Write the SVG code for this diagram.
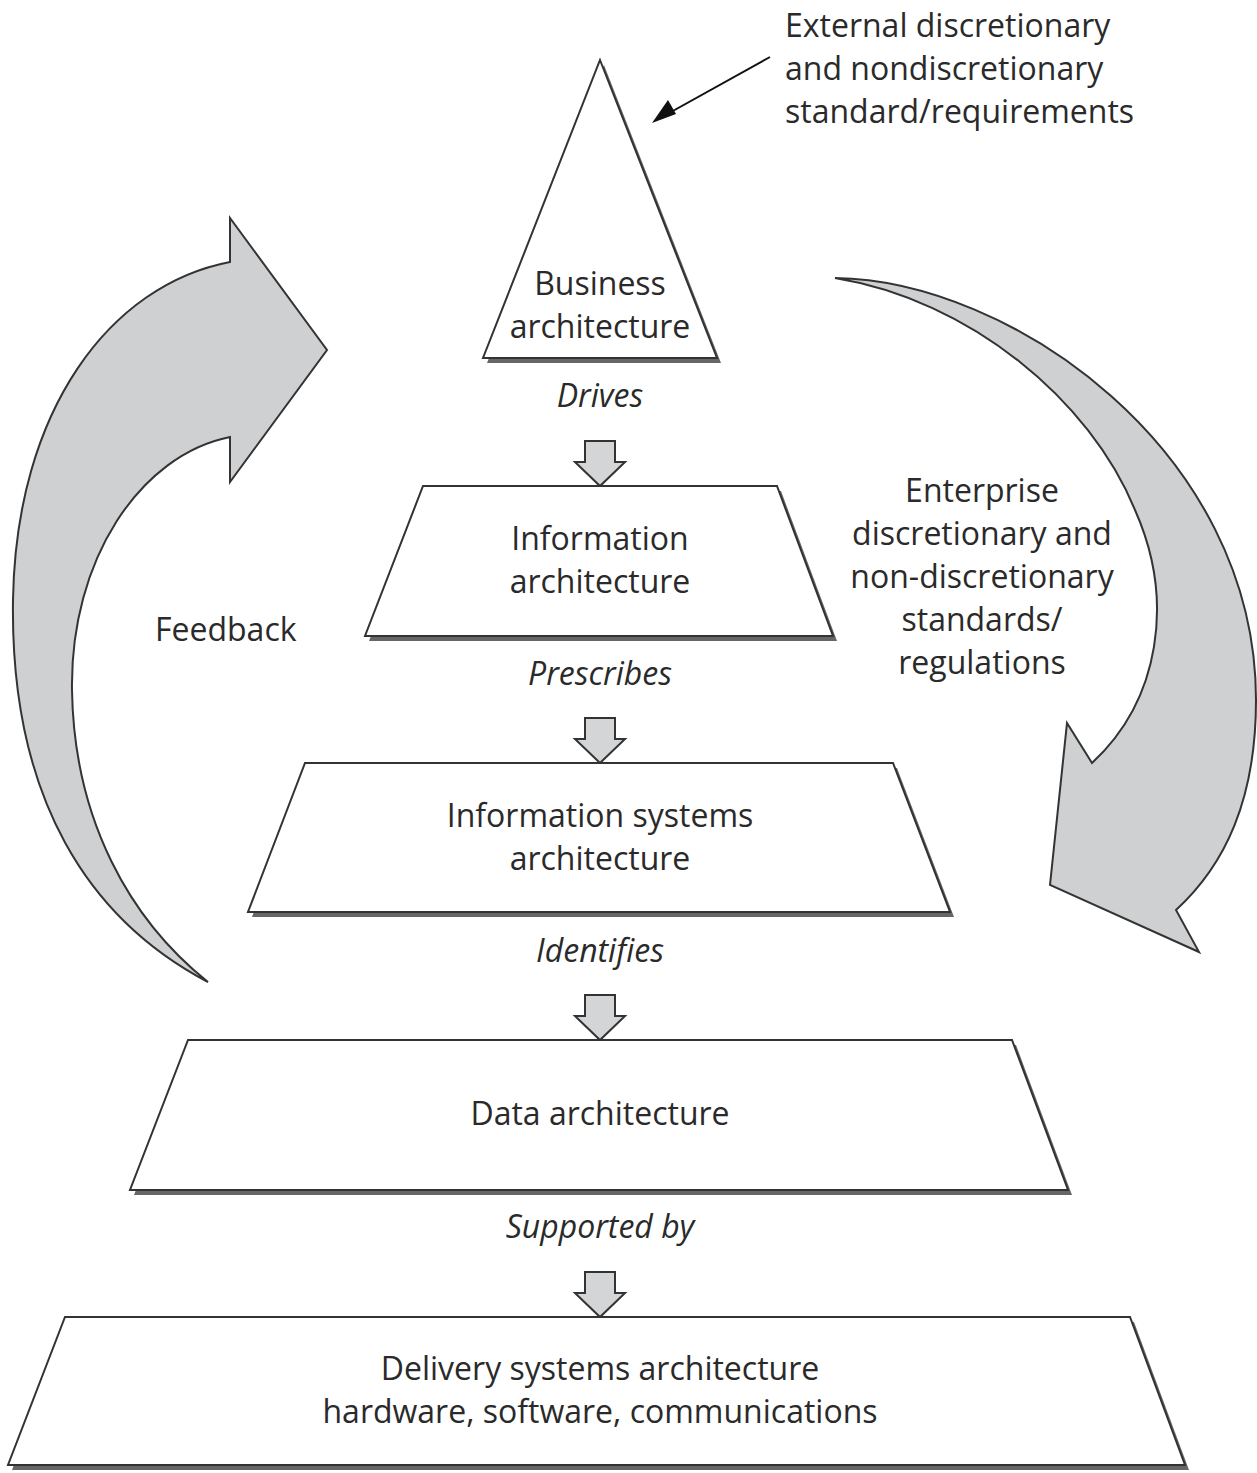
<svg xmlns="http://www.w3.org/2000/svg" width="1257" height="1473" viewBox="0 0 1257 1473">
<style>
text{font-family:"Open Sans","Noto Sans","Liberation Sans",sans-serif;font-size:32px;fill:#2a2a2a}
.c{text-anchor:middle}
.i{font-style:italic}
.box{fill:#fff;stroke:#333;stroke-width:2}
.sh{fill:#666}
.big{fill:#cfd0d2;stroke:#333;stroke-width:2}
.small{fill:#d4d5d7;stroke:#333;stroke-width:2}
</style>
<defs>
<path id="da" d="M-15,-45 h30 v21 h10 l-25,24 l-25,-24 h10 z"/>
</defs>
<rect width="1257" height="1473" fill="#fff"/>

<g id="feedback-arrow">
<path class="big" d="M230,262 L230,218 L327,350 L230,482 L230,437 C140,455 70,560 72,690 C74,820 130,920 208,982 C90,920 10,800 13,600 C16,410 110,285 230,262 Z"/>
<text x="155" y="641">Feedback</text>
</g>

<g id="enterprise-arrow">
<path class="big" d="M835,278 C1010,280 1256,450 1256,700 C1256,800 1225,865 1176,910 L1199,952 L1050,885 L1067,723 L1092,763 C1160,700 1175,600 1135,510 C1090,400 970,300 835,278 Z"/>
<text class="c" x="982" y="502">Enterprise</text>
<text class="c" x="982" y="545">discretionary and</text>
<text class="c" x="982" y="588">non-discretionary</text>
<text class="c" x="982" y="631">standards/</text>
<text class="c" x="982" y="674">regulations</text>
</g>

<g id="external">
<text x="785" y="37">External discretionary</text>
<text x="785" y="80">and nondiscretionary</text>
<text x="785" y="123">standard/requirements</text>
</g>

<g id="connectors">
<line x1="770" y1="57" x2="662" y2="117" stroke="#111" stroke-width="2"/>
<path d="M652,123 L668,100 L676,114 Z" fill="#111"/>
<use href="#da" x="600" y="486" class="small"/>
<use href="#da" x="600" y="763" class="small"/>
<use href="#da" x="600" y="1040" class="small"/>
<use href="#da" x="600" y="1317" class="small"/>
</g>

<g id="business">
<path class="sh" d="M604,65 L721,363 L487,363 Z"/>
<path class="box" d="M600,60 L717,358 L483,358 Z"/>
<text class="c" x="600" y="295">Business</text>
<text class="c" x="600" y="338">architecture</text>
<text class="c i" x="600" y="407">Drives</text>
</g>

<g id="information">
<path class="sh" d="M427,491 L781,491 L837,641 L369,641 Z"/>
<path class="box" d="M423,486 L777,486 L833,636 L365,636 Z"/>
<text class="c" x="600" y="550">Information</text>
<text class="c" x="600" y="593">architecture</text>
<text class="c i" x="600" y="685">Prescribes</text>
</g>

<g id="information-systems">
<path class="sh" d="M309,768 L897,768 L954,917 L252,917 Z"/>
<path class="box" d="M305,763 L893,763 L950,912 L248,912 Z"/>
<text class="c" x="600" y="827">Information systems</text>
<text class="c" x="600" y="870">architecture</text>
<text class="c i" x="600" y="962">Identifies</text>
</g>

<g id="data">
<path class="sh" d="M192,1045 L1016,1045 L1072,1195 L134,1195 Z"/>
<path class="box" d="M188,1040 L1012,1040 L1068,1190 L130,1190 Z"/>
<text class="c" x="600" y="1125">Data architecture</text>
<text class="c i" x="600" y="1238">Supported by</text>
</g>

<g id="delivery">
<path class="sh" d="M69,1322 L1134,1322 L1189,1470 L12,1470 Z"/>
<path class="box" d="M65,1317 L1130,1317 L1185,1465 L8,1465 Z"/>
<text class="c" x="600" y="1380">Delivery systems architecture</text>
<text class="c" x="600" y="1423">hardware, software, communications</text>
</g>
</svg>
